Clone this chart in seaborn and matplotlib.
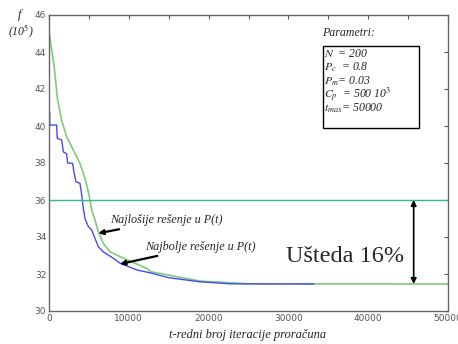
import matplotlib
matplotlib.use("Agg")
import matplotlib.pyplot as plt
import pandas as pd
import seaborn as sns
from matplotlib.patches import Rectangle

# najbolje resenje u P(t) (plava, stepenasta)
t_best = [90, 90, 960, 1040, 1590, 1800, 2210, 2340, 2970, 3130, 3380, 3880, 4100, 4300,
          4510, 4930, 5350, 5680, 6180, 6800, 8060, 8900, 11000, 12800, 15000, 18900,
          22700, 33200]
f_best = [40.74, 40.05, 40.05, 39.33, 39.24, 38.6, 38.5, 38.0, 37.98, 37.5, 36.99, 36.9,
          36.27, 35.55, 35.0, 34.56, 34.38, 34.02, 33.48, 33.2, 32.85, 32.58, 32.22, 32.05,
          31.8, 31.58, 31.47, 31.46]

# najlosije resenje u P(t) (zelena)
t_worst = [0, 650, 1050, 1590, 2210, 3050, 3880, 4510, 4930, 5350, 5760, 6180, 6800, 7640,
           8900, 12240, 12800, 18900, 25000, 50000]
f_worst = [45.1, 43.2, 41.5, 40.3, 39.42, 38.7, 37.98, 37.17, 36.45, 35.46, 34.92, 34.29,
           33.66, 33.2, 32.94, 32.3, 32.12, 31.62, 31.47, 31.46]

f_start = 36.0
f_end = 31.46
params = [r"$N$  = 200", r"$P_c$  = 0.8", r"$P_m$= 0.03", r"$C_p$  = 500 10$^3$",
          r"$t_{max}$= 50000"]

SERIF = ["Liberation Serif", "DejaVu Serif"]

sns.set_theme(style="white")
plt.rcParams["font.family"] = ["DejaVu Sans"]
plt.rcParams["mathtext.fontset"] = "stix"

fig = plt.figure(figsize=(4.58, 3.44), dpi=100)
ax = fig.add_axes([49 / 458, 1 - 311 / 344, 399 / 458, 296 / 344])

best = pd.DataFrame({"t": t_best, "f": f_best})
worst = pd.DataFrame({"t": t_worst, "f": f_worst})
sns.lineplot(data=worst, x="t", y="f", ax=ax, color="#7ccc7c", lw=1.2,
             sort=False, estimator=None)
sns.lineplot(data=best, x="t", y="f", ax=ax, color="#4a4af0", lw=1.0,
             sort=False, estimator=None)
ax.axhline(f_start, color="#33b88c", lw=1.0)

ax.set_xlim(0, 50000)
ax.set_ylim(30, 46)
ax.set_xticks(range(0, 50001, 5000))
ax.set_xticklabels([str(v) if v % 10000 == 0 else "" for v in range(0, 50001, 5000)])
ax.set_yticks(range(30, 47, 2))
ax.tick_params(direction="in", length=3, width=0.8, top=True, right=True,
               labelsize=6.5, labelcolor="#555555", color="#555555", pad=2)
for s in ax.spines.values():
    s.set_color("#666666")
    s.set_linewidth(1.0)
ax.set_xlabel("")
ax.set_ylabel("")

# anotacije
ax.annotate("Najlošije rešenje u P(t)", xy=(6180, 34.2), xytext=(7700, 34.92),
            fontsize=8.7, style="italic", family=SERIF, va="center",
            arrowprops=dict(arrowstyle="-|>", color="black", lw=1.6, mutation_scale=7,
                            shrinkA=0, shrinkB=0))
ax.annotate("Najbolje rešenje u P(t)", xy=(8900, 32.54), xytext=(12000, 33.48),
            fontsize=8.7, style="italic", family=SERIF, va="center",
            arrowprops=dict(arrowstyle="-|>", color="black", lw=1.6, mutation_scale=7,
                            shrinkA=0, shrinkB=0))

ax.annotate("", xy=(45700, f_end), xytext=(45700, f_start),
            arrowprops=dict(arrowstyle="<|-|>", color="black", lw=1.2, mutation_scale=8,
                            shrinkA=0, shrinkB=0))
ax.text(37150, 32.97, "Ušteda 16%", fontsize=17.5, family=SERIF, ha="center", va="center")

# parametri
ax.text(34200, 45.03, "Parametri:", fontsize=8.6, style="italic", family=SERIF, va="center")
ax.add_patch(Rectangle((34340, 39.89), 12030, 4.43, fill=False, ec="black", lw=1.0))
for i, p in enumerate(params):
    ax.text(34450, 43.89 - i * 0.73, p, fontsize=8.5, style="italic", family=SERIF,
            va="center")

fig.text(20 / 458, 1 - 15 / 344, "f", fontsize=9, style="italic", family=SERIF,
         ha="center", va="center")
fig.text(21 / 458, 1 - 31 / 344, r"(10$^5$)", fontsize=8.5, style="italic", family=SERIF,
         ha="center", va="center")
fig.text(248 / 458, 1 - 335 / 344, "t-redni broj iteracije proračuna", fontsize=9,
         style="italic", family=SERIF, ha="center", va="center")

fig.savefig("out.png", dpi=100)
